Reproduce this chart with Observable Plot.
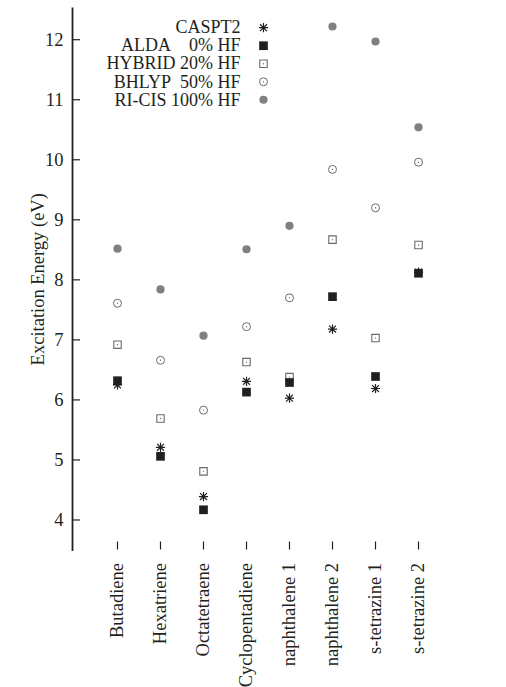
<!DOCTYPE html>
<html><head><meta charset="utf-8">
<script src="https://cdn.jsdelivr.net/npm/d3@7"></script>
<script src="https://cdn.jsdelivr.net/npm/@observablehq/plot@0.6"></script>
<style>
html,body{margin:0;padding:0;background:#fff;}
</style></head><body><div id="chart"></div>
<script>
const molecules = ["Butadiene","Hexatriene","Octatetraene","Cyclopentadiene","naphthalene 1","naphthalene 2","s-tetrazine 1","s-tetrazine 2"];
const caspt2 = [6.25,5.21,4.39,6.31,6.03,7.18,6.19,8.13];
const alda   = [6.32,5.06,4.17,6.13,6.29,7.72,6.39,8.11];
const hybrid = [6.92,5.69,4.81,6.63,6.38,8.67,7.03,8.58];
const bhlyp  = [7.61,6.66,5.83,7.22,7.70,9.84,9.20,9.96];
const ricis  = [8.52,7.84,7.07,8.51,8.90,12.22,11.97,10.54];
const seriesNames = ["CASPT2","ALDA\u00A0\u00A0\u00A0\u00A00% HF","HYBRID\u00A020% HF","BHLYP\u00A0\u00A050% HF","RI-CIS\u00A0100% HF"];
const legendY = [12.2,11.9,11.6,11.3,11.0];
const yTicks = [4,5,6,7,8,9,10,11,12];
const yLabel = "Excitation Energy (eV)";

const W = 506, H = 687, mL = 72, mR = 44, mT = 8, mB = 137.5;
const frameW = W - mL - mR, frameH = H - mT - mB;
const font = "'Liberation Serif','Times New Roman',serif";

const star8 = {draw(ctx, size){
  const r = Math.sqrt(size/Math.PI), d = r*0.75;
  ctx.moveTo(-r,0); ctx.lineTo(r,0);
  ctx.moveTo(0,-r); ctx.lineTo(0,r);
  ctx.moveTo(-d,-d); ctx.lineTo(d,d);
  ctx.moveTo(-d,d); ctx.lineTo(d,-d);
}};

const styles = [
  {symbol: star8, r: 4.6, stroke: "#231f20", fill: "none", strokeWidth: 1.2},
  {symbol: "square", r: 4.9, fill: "#231f20", stroke: "none"},
  {symbol: "square", r: 4.2, fill: "white", stroke: "#6a6a6a", strokeWidth: 1.1, center: true},
  {symbol: "circle", r: 4.0, fill: "white", stroke: "#6a6a6a", strokeWidth: 1.0, center: true},
  {symbol: "circle", r: 4.1, fill: "#808080", stroke: "none"}
];
const values = [caspt2, alda, hybrid, bhlyp, ricis];
const drawOrder = [4, 3, 2, 1, 0];

const marks = [
  Plot.frame({anchor: "left", stroke: "#231f20", strokeWidth: 1.8}),
  Plot.tickY(yTicks, {y: d => d, insetRight: frameW - 8, stroke: "#231f20", strokeWidth: 1.2}),
  Plot.tickX(molecules, {x: d => d, insetTop: frameH - 8, stroke: "#231f20", strokeWidth: 1.2}),
  Plot.axisY({ticks: yTicks, tickSize: 0, tickPadding: 9, fontSize: 18.5, label: yLabel, labelAnchor: "center", labelOffset: 42, labelArrow: false}),
  Plot.axisX({tickRotate: -90, tickSize: 0, tickPadding: 13, fontSize: 18.5, label: null})
];

for (const i of drawOrder) {
  const s = styles[i];
  const rows = molecules.map((m, j) => ({m, v: values[i][j]}));
  const leg = [{ly: legendY[i], name: seriesNames[i]}];
  const opts = {symbol: s.symbol, r: s.r, fill: s.fill, stroke: s.stroke, strokeWidth: s.strokeWidth};
  marks.push(Plot.dot(rows, {x: "m", y: "v", ...opts}));
  marks.push(Plot.dot(leg, {y: "ly", frameAnchor: "left", dx: 191, ...opts}));
  if (s.center) {
    marks.push(Plot.dot(rows, {x: "m", y: "v", r: 0.7, fill: s.stroke}));
    marks.push(Plot.dot(leg, {y: "ly", frameAnchor: "left", dx: 191, r: 0.7, fill: s.stroke}));
  }
  marks.push(Plot.text(leg, {y: "ly", text: "name", frameAnchor: "left", dx: 168, textAnchor: "end", fontSize: 18, fill: "#231f20"}));
}

const chart = Plot.plot({
  width: W, height: H,
  marginLeft: mL, marginRight: mR, marginTop: mT, marginBottom: mB,
  style: {fontFamily: font, fontSize: "18.5px", color: "#231f20", background: "white"},
  x: {type: "point", domain: molecules, padding: 1, axis: null},
  y: {domain: [3.5, 12.52], axis: null},
  marks
});
document.getElementById("chart").appendChild(chart);
</script></body></html>
